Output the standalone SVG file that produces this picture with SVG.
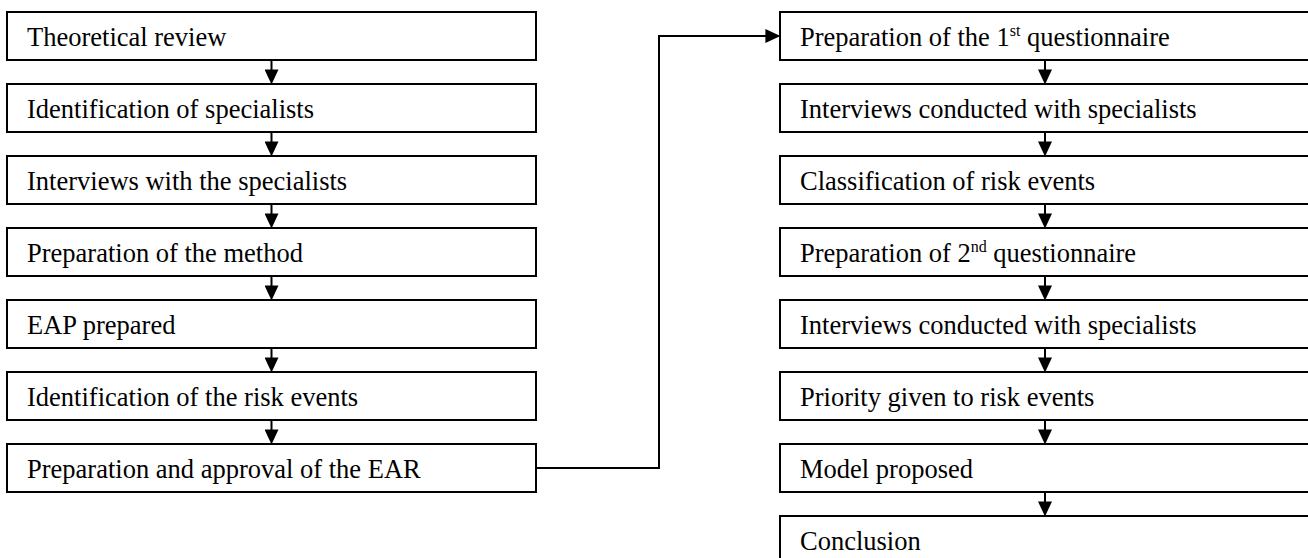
<svg xmlns="http://www.w3.org/2000/svg" width="1308" height="558" viewBox="0 0 1308 558">
<style>
.box{fill:#fff;stroke:#000;stroke-width:2}
.lbl{font-family:"Liberation Serif","Times New Roman",serif;font-size:26.5px;fill:#000}
.sup{font-size:16px}
.con{fill:none;stroke:#000;stroke-width:2}
</style>
<defs>
<marker id="ah" markerUnits="userSpaceOnUse" markerWidth="16" markerHeight="14" viewBox="0 0 14 13" refX="8" refY="6.5" orient="auto">
<path d="M0,0 L14,6.5 L0,13 z" fill="#000"/>
</marker>
</defs>
<rect width="1308" height="558" fill="#fff"/>
<g id="n1"><rect class="box" x="7" y="12" width="529" height="48"/><text class="lbl" x="27" y="46">Theoretical review</text></g>
<g id="n2"><rect class="box" x="7" y="84" width="529" height="48"/><text class="lbl" x="27" y="118">Identification of specialists</text></g>
<g id="n3"><rect class="box" x="7" y="156" width="529" height="48"/><text class="lbl" x="27" y="190">Interviews with the specialists</text></g>
<g id="n4"><rect class="box" x="7" y="228" width="529" height="48"/><text class="lbl" x="27" y="262">Preparation of the method</text></g>
<g id="n5"><rect class="box" x="7" y="300" width="529" height="48"/><text class="lbl" x="27" y="334">EAP prepared</text></g>
<g id="n6"><rect class="box" x="7" y="372" width="529" height="48"/><text class="lbl" x="27" y="406">Identification of the risk events</text></g>
<g id="n7"><rect class="box" x="7" y="444" width="529" height="48"/><text class="lbl" x="27" y="478">Preparation and approval of the EAR</text></g>
<g id="m1"><rect class="box" x="780" y="12" width="530" height="48"/><text class="lbl" x="800" y="46">Preparation of the 1<tspan class="sup" dy="-10">st</tspan><tspan dy="10"> questionnaire</tspan></text></g>
<g id="m2"><rect class="box" x="780" y="84" width="530" height="48"/><text class="lbl" x="800" y="118">Interviews conducted with specialists</text></g>
<g id="m3"><rect class="box" x="780" y="156" width="530" height="48"/><text class="lbl" x="800" y="190">Classification of risk events</text></g>
<g id="m4"><rect class="box" x="780" y="228" width="530" height="48"/><text class="lbl" x="800" y="262">Preparation of 2<tspan class="sup" dy="-10">nd</tspan><tspan dy="10"> questionnaire</tspan></text></g>
<g id="m5"><rect class="box" x="780" y="300" width="530" height="48"/><text class="lbl" x="800" y="334">Interviews conducted with specialists</text></g>
<g id="m6"><rect class="box" x="780" y="372" width="530" height="48"/><text class="lbl" x="800" y="406">Priority given to risk events</text></g>
<g id="m7"><rect class="box" x="780" y="444" width="530" height="48"/><text class="lbl" x="800" y="478">Model proposed</text></g>
<g id="m8"><rect class="box" x="780" y="516" width="530" height="48"/><text class="lbl" x="800" y="550">Conclusion</text></g>
<g id="connectors">
<path class="con" d="M271.5,60 V78" marker-end="url(#ah)"/>
<path class="con" d="M271.5,132 V150" marker-end="url(#ah)"/>
<path class="con" d="M271.5,204 V222" marker-end="url(#ah)"/>
<path class="con" d="M271.5,276 V294" marker-end="url(#ah)"/>
<path class="con" d="M271.5,348 V366" marker-end="url(#ah)"/>
<path class="con" d="M271.5,420 V438" marker-end="url(#ah)"/>
<path class="con" d="M536,468 H659 V36 H774" marker-end="url(#ah)"/>
<path class="con" d="M1045,60 V78" marker-end="url(#ah)"/>
<path class="con" d="M1045,132 V150" marker-end="url(#ah)"/>
<path class="con" d="M1045,204 V222" marker-end="url(#ah)"/>
<path class="con" d="M1045,276 V294" marker-end="url(#ah)"/>
<path class="con" d="M1045,348 V366" marker-end="url(#ah)"/>
<path class="con" d="M1045,420 V438" marker-end="url(#ah)"/>
<path class="con" d="M1045,492 V510" marker-end="url(#ah)"/>
</g>
</svg>
